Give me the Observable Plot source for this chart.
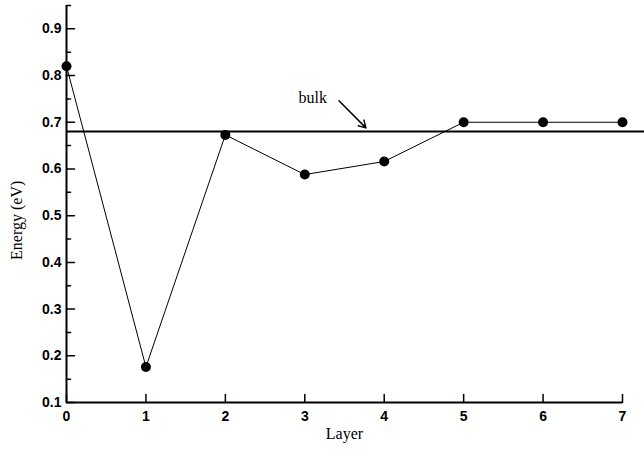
<!DOCTYPE html>
<html><head><meta charset="utf-8">
<script src="https://cdn.jsdelivr.net/npm/d3@7"></script>
<script src="https://cdn.jsdelivr.net/npm/@observablehq/plot@0.6"></script>
<style>body{margin:0;background:#fff}</style>
</head><body><div id="chart"></div>
<script>
const layers = [0, 1, 2, 3, 4, 5, 6, 7];
const energies = [0.82, 0.176, 0.673, 0.588, 0.616, 0.70, 0.70, 0.70];
const bulkEnergy = [0.68];
const bulkSpan = [0, 7.28];
const xTicks = [0, 1, 2, 3, 4, 5, 6, 7];
const yMajorTicks = [0.1, 0.2, 0.3, 0.4, 0.5, 0.6, 0.7, 0.8, 0.9];
const yMinorTicks = [0.15, 0.25, 0.35, 0.45, 0.55, 0.65, 0.75, 0.85, 0.95];
const bulkLabel = [{text: "bulk", x: 3.1, y: 0.752}];
const bulkArrow = [{x1: 3.43, y1: 0.746, x2: 3.77, y2: 0.688}];
const xTitle = "Layer";
const yTitle = "Energy (eV)";

const points = layers.map((l, i) => ({layer: l, energy: energies[i]}));
const tickShape = {draw(ctx, l) { ctx.moveTo(0, 0); ctx.lineTo(0, -l); }};
const sans = "'Liberation Sans', Arial, sans-serif";
const serif = "'Liberation Serif', 'Times New Roman', serif";

const chart = Plot.plot({
  width: 644,
  height: 459,
  marginLeft: 66,
  marginRight: 22,
  marginTop: 5,
  marginBottom: 57,
  style: {fontFamily: sans, background: "#fff", color: "#000"},
  x: {domain: [0, 7]},
  y: {domain: [0.1, 0.95]},
  marks: [
    Plot.ruleY(bulkEnergy, {y: d => d, x1: () => bulkSpan[0], x2: () => bulkSpan[1], stroke: "#000", strokeWidth: 2}),
    Plot.line(points, {x: "layer", y: "energy", stroke: "#000", strokeWidth: 1}),
    Plot.dot(points, {x: "layer", y: "energy", r: 5, fill: "#000", stroke: "none"}),
    Plot.ruleY([0.1], {stroke: "#000", strokeWidth: 2}),
    Plot.ruleX([0], {stroke: "#000", strokeWidth: 2}),
    Plot.vector(xTicks, {x: d => d, frameAnchor: "bottom", length: 8, rotate: 0, anchor: "start", shape: tickShape, stroke: "#000", strokeWidth: 1.5}),
    Plot.vector(yMajorTicks, {y: d => d, frameAnchor: "left", length: 8, rotate: 90, anchor: "start", shape: tickShape, stroke: "#000", strokeWidth: 1.5}),
    Plot.vector(yMinorTicks, {y: d => d, frameAnchor: "left", length: 4, rotate: 90, anchor: "start", shape: tickShape, stroke: "#000", strokeWidth: 1.5}),
    Plot.axisX({ticks: xTicks, tickSize: 0, tickPadding: 9, label: null, fontSize: 14, fontWeight: "bold", tickFormat: d3.format("d")}),
    Plot.axisY({ticks: yMajorTicks, tickSize: 0, tickPadding: 5, label: null, fontSize: 14, fontWeight: "bold", tickFormat: d3.format(".1f")}),
    Plot.text([xTitle], {text: d => d, frameAnchor: "bottom", dy: 36, fontSize: 16, fontFamily: serif}),
    Plot.text([yTitle], {text: d => d, frameAnchor: "left", textAnchor: "middle", y: () => 0.49, dx: -50, rotate: -90, fontSize: 16, fontFamily: serif}),
    Plot.text(bulkLabel, {x: "x", y: "y", text: "text", fontSize: 16, fontFamily: serif}),
    Plot.arrow(bulkArrow, {x1: "x1", y1: "y1", x2: "x2", y2: "y2", stroke: "#000", strokeWidth: 1.5, headLength: 8})
  ]
});
document.getElementById("chart").appendChild(chart);
</script>
</body></html>
